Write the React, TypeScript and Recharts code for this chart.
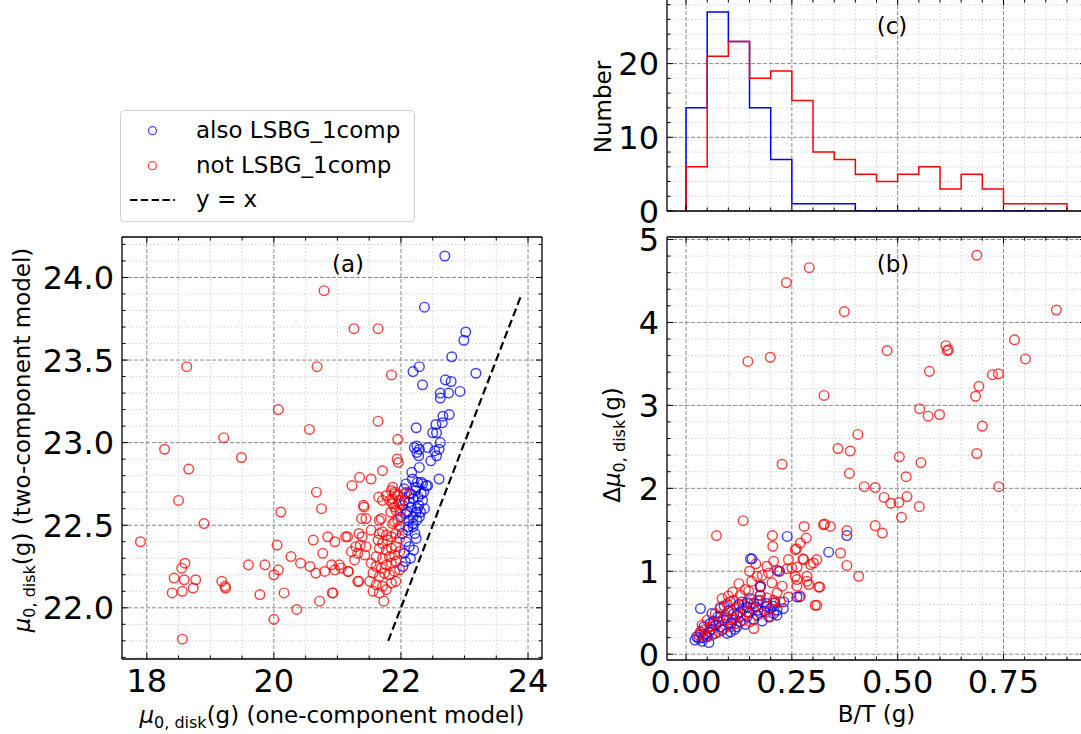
import React from 'react';
import { ScatterChart, Scatter, ComposedChart, Line, XAxis, YAxis, CartesianGrid, ReferenceLine, Legend } from 'recharts';

const FONT = '"DejaVu Sans", sans-serif';
const BLUE = '#0000ff';
const RED = '#ff0000';

// ---- panel (a): mu0 disk, one-component vs two-component ----
const A_BLUE: [number, number][] = [
  [22.69, 24.13], [22.37, 23.82], [23.02, 23.67], [22.99, 23.62], [22.80, 23.52], [22.19, 23.43], [22.29, 23.46],
  [23.18, 23.42], [22.34, 23.35], [22.70, 23.38], [22.79, 23.37], [22.93, 23.31], [22.62, 23.30], [22.75, 23.30],
  [22.62, 23.27], [22.66, 23.16], [22.76, 23.17], [22.55, 23.11], [22.65, 23.12], [22.24, 23.09], [22.50, 23.06],
  [22.56, 23.06], [22.62, 23.00], [22.25, 22.98], [22.29, 22.96], [22.25, 22.94], [22.28, 22.92], [22.42, 22.97],
  [22.53, 22.95], [22.60, 22.96], [22.56, 22.92], [22.47, 22.89], [22.29, 22.85], [22.17, 22.82], [22.60, 22.78],
  [22.08, 22.75], [22.26, 22.76], [22.34, 22.75], [22.42, 22.74], [22.23, 22.71], [22.32, 22.69], [22.13, 22.69],
  [22.19, 22.66], [22.34, 22.65], [22.06, 22.65], [22.28, 22.62], [22.37, 22.60], [22.16, 22.61], [22.24, 22.58],
  [22.08, 22.57], [22.25, 22.53], [22.19, 22.51], [22.11, 22.49], [22.29, 22.55], [22.21, 22.97], [22.40, 22.74],
  [22.26, 22.60], [22.19, 22.55], [22.11, 22.47], [22.19, 22.49], [22.24, 22.42], [22.13, 22.37], [22.05, 22.33],
  [22.03, 22.25], [22.16, 22.69], [22.13, 22.64], [22.32, 22.76], [22.24, 22.73], [22.02, 22.45], [22.08, 22.40],
  [22.15, 22.30], [22.00, 22.55], [22.10, 22.58], [22.20, 22.35], [22.03, 22.62], [22.18, 22.78], [22.36, 22.70],
  [22.12, 22.53], [22.07, 22.28], [22.22, 22.45], [22.27, 22.67], [22.05, 22.72], [22.31, 22.58],
];
const A_RED: [number, number][] = [
  [20.79, 23.92], [21.26, 23.69], [21.64, 23.69], [18.63, 23.46], [20.68, 23.46], [21.85, 23.41], [20.07, 23.20],
  [21.64, 23.13], [20.56, 23.08], [19.21, 23.03], [18.28, 22.96], [19.49, 22.91], [18.66, 22.84], [21.95, 23.02],
  [21.94, 22.90], [21.96, 22.88], [21.71, 22.83], [21.35, 22.79], [21.53, 22.78], [21.23, 22.74], [20.67, 22.70],
  [18.50, 22.65], [20.75, 22.60], [20.11, 22.58], [21.41, 22.62], [18.90, 22.51], [21.38, 22.54], [21.45, 22.54],
  [21.69, 22.54], [21.65, 22.67], [17.90, 22.40], [20.62, 22.41], [20.85, 22.43], [20.96, 22.40], [21.16, 22.43],
  [20.05, 22.38], [20.77, 22.33], [20.27, 22.31], [19.60, 22.26], [19.86, 22.26], [20.42, 22.27], [20.57, 22.25],
  [20.66, 22.21], [20.80, 22.22], [20.91, 22.26], [21.06, 22.24], [21.17, 22.22], [20.00, 22.20], [20.07, 22.23],
  [18.60, 22.27], [18.55, 22.24], [18.43, 22.18], [18.59, 22.17], [18.77, 22.17], [18.40, 22.09], [18.56, 22.10],
  [18.73, 22.12], [19.18, 22.16], [19.23, 22.13], [19.24, 22.12], [19.78, 22.08], [20.16, 22.09], [20.92, 22.09],
  [20.72, 22.04], [20.36, 21.99], [20.00, 21.93], [18.56, 21.81], [21.34, 22.16], [21.73, 22.04],
  [21.85, 22.71], [21.90, 22.69], [21.82, 22.65], [21.87, 22.63], [21.98, 22.65], [22.06, 22.69], [22.09, 22.70],
  [21.42, 22.61], [21.84, 22.58], [21.92, 22.59], [21.90, 22.52], [21.95, 22.53], [21.13, 22.43], [21.34, 22.45],
  [21.39, 22.43], [21.53, 22.47], [21.29, 22.37], [21.36, 22.38], [21.45, 22.37], [21.22, 22.34], [21.32, 22.33],
  [21.43, 22.32], [21.27, 22.29], [21.66, 22.45], [21.71, 22.46], [21.77, 22.44], [21.64, 22.41], [21.71, 22.39],
  [21.79, 22.41], [21.85, 22.43], [21.92, 22.45], [21.98, 22.42], [21.66, 22.36], [21.77, 22.35], [21.85, 22.36],
  [21.92, 22.37], [21.61, 22.31], [21.71, 22.30], [21.82, 22.31], [21.90, 22.32], [21.98, 22.34], [21.53, 22.27],
  [21.61, 22.25], [21.69, 22.24], [21.77, 22.26], [21.85, 22.27], [21.92, 22.28], [21.56, 22.21], [21.66, 22.19],
  [21.74, 22.21], [21.82, 22.20], [21.90, 22.22], [21.98, 22.23], [21.51, 22.16], [21.61, 22.14], [21.71, 22.13],
  [21.85, 22.15], [21.92, 22.16], [21.56, 22.10], [21.66, 22.09], [21.77, 22.11], [21.03, 22.26], [20.96, 22.23],
  [21.17, 22.22], [21.32, 22.16], [20.93, 22.09], [21.87, 22.73], [21.90, 22.70], [21.95, 22.68], [21.87, 22.66],
  [21.77, 22.68], [21.98, 22.63], [21.90, 22.61], [22.00, 22.59], [21.71, 22.65], [21.66, 22.53], [21.87, 22.51],
  [21.98, 22.49],
];
const A_ONE_TO_ONE = [21.8, 23.9];
const A_X_TICKS = [18, 20, 22, 24];
const A_Y_TICKS = [22.0, 22.5, 23.0, 23.5, 24.0];

// ---- panel (b): delta mu vs B/T ----
const B_BLUE: [number, number][] = [
  [0.025, 0.21], [0.021, 0.17], [0.038, 0.155], [0.054, 0.14], [0.050, 0.21], [0.069, 0.25], [0.081, 0.33],
  [0.097, 0.25], [0.105, 0.27], [0.120, 0.33], [0.089, 0.41], [0.113, 0.49], [0.128, 0.51], [0.144, 0.57],
  [0.160, 0.61], [0.175, 0.65], [0.191, 0.61], [0.207, 0.49], [0.215, 0.47], [0.199, 0.55], [0.168, 0.47],
  [0.144, 0.45], [0.128, 0.39], [0.105, 0.37], [0.077, 0.39], [0.057, 0.37], [0.042, 0.33], [0.034, 0.27],
  [0.061, 0.49], [0.081, 0.55], [0.105, 0.63], [0.132, 0.63], [0.175, 0.71], [0.152, 0.67], [0.215, 0.53],
  [0.231, 0.63], [0.262, 0.69], [0.175, 0.81], [0.034, 0.55], [0.152, 1.15], [0.239, 1.42], [0.337, 1.23],
  [0.215, 1.01], [0.380, 1.43], [0.156, 1.15], [0.268, 0.69], [0.221, 1.00], [0.176, 0.82], [0.030, 0.19],
  [0.045, 0.24], [0.060, 0.30], [0.070, 0.35], [0.085, 0.29], [0.095, 0.44], [0.110, 0.41], [0.120, 0.47],
  [0.135, 0.55], [0.150, 0.50], [0.165, 0.57], [0.185, 0.52], [0.195, 0.45], [0.205, 0.58], [0.180, 0.40],
  [0.160, 0.42], [0.140, 0.36], [0.115, 0.30], [0.100, 0.52], [0.090, 0.58], [0.075, 0.45], [0.065, 0.40],
  [0.055, 0.27], [0.040, 0.20], [0.125, 0.60], [0.145, 0.62], [0.170, 0.53], [0.190, 0.58], [0.210, 0.62],
  [0.230, 0.55],
];
const B_RED: [number, number][] = [
  [0.687, 4.81], [0.291, 4.66], [0.237, 4.48], [0.875, 4.15], [0.374, 4.13], [0.776, 3.79], [0.614, 3.72],
  [0.617, 3.66], [0.620, 3.67], [0.475, 3.66], [0.802, 3.56], [0.199, 3.58], [0.146, 3.53], [0.575, 3.41],
  [0.724, 3.37], [0.738, 3.38], [0.692, 3.23], [0.684, 3.11], [0.326, 3.12], [0.552, 2.96], [0.572, 2.87],
  [0.599, 2.89], [0.700, 2.75], [0.406, 2.65], [0.359, 2.48], [0.388, 2.45], [0.687, 2.42], [0.504, 2.38],
  [0.555, 2.31], [0.227, 2.29], [0.386, 2.18], [0.520, 2.14], [0.421, 2.02], [0.447, 2.01], [0.468, 1.89],
  [0.484, 1.82], [0.503, 1.83], [0.522, 1.90], [0.551, 1.78], [0.739, 2.02], [0.509, 1.65], [0.447, 1.55],
  [0.464, 1.46], [0.135, 1.61], [0.072, 1.43], [0.204, 1.43], [0.205, 1.30], [0.279, 1.54], [0.284, 1.40],
  [0.270, 1.34], [0.261, 1.27], [0.327, 1.57], [0.341, 1.54], [0.380, 1.49], [0.365, 1.22], [0.380, 1.07],
  [0.408, 0.94], [0.309, 1.14], [0.301, 1.10], [0.294, 1.08], [0.276, 1.15], [0.242, 1.14], [0.262, 1.05],
  [0.239, 1.03], [0.219, 1.00], [0.286, 0.94], [0.262, 0.90], [0.290, 0.84], [0.262, 0.82], [0.313, 0.81],
  [0.309, 0.59], [0.270, 0.70], [0.191, 1.06], [0.207, 1.12], [0.168, 0.94], [0.176, 0.82], [0.203, 0.86],
  [0.227, 0.82], [0.195, 0.98], [0.242, 0.69], [0.223, 0.63], [0.207, 0.62], [0.191, 0.68], [0.160, 0.31],
  [0.148, 0.76], [0.140, 0.78], [0.128, 0.71], [0.113, 0.65], [0.097, 0.61], [0.085, 0.67], [0.081, 0.57],
  [0.105, 0.53], [0.120, 0.57], [0.136, 0.59], [0.152, 0.61], [0.168, 0.65], [0.175, 0.71], [0.207, 0.65],
  [0.215, 0.74], [0.144, 0.51], [0.128, 0.45], [0.113, 0.43], [0.097, 0.41], [0.081, 0.45], [0.065, 0.37],
  [0.057, 0.33], [0.042, 0.29], [0.034, 0.25], [0.050, 0.41], [0.069, 0.49], [0.093, 0.47], [0.105, 0.33],
  [0.089, 0.31], [0.077, 0.27], [0.061, 0.23], [0.046, 0.21], [0.030, 0.23], [0.038, 0.35], [0.160, 0.55],
  [0.175, 0.49], [0.191, 0.51], [0.199, 0.45], [0.136, 0.41], [0.152, 0.39], [0.120, 0.37], [0.305, 0.59],
  [0.316, 0.81], [0.286, 0.88], [0.258, 0.94], [0.250, 1.04], [0.278, 1.14], [0.258, 1.26], [0.325, 1.56],
  [0.110, 0.75], [0.125, 0.85], [0.155, 0.88], [0.180, 0.95], [0.100, 0.70], [0.150, 1.00], [0.165, 1.09],
];
const B_X_TICKS = [0, 0.25, 0.5, 0.75];
const B_Y_TICKS = [0, 1, 2, 3, 4, 5];

// ---- panel (c): B/T histogram ----
const BIN_EDGES = [0, 0.05, 0.1, 0.15, 0.2, 0.25, 0.3, 0.35, 0.4, 0.45, 0.5, 0.55, 0.6, 0.65, 0.7, 0.75, 0.8, 0.85, 0.9];
const HIST_BLUE = [14, 27, 23, 14, 7, 1, 1, 1, 0, 0, 0, 0, 0, 0, 0, 0, 0, 0];
const HIST_RED = [6, 21, 23, 18, 19, 15, 8, 7, 5, 4, 5, 6, 3, 5, 3, 1, 1, 1];
const C_Y_TICKS = [0, 10, 20];

const LEGEND_LABELS = ['also LSBG_1comp', 'not LSBG_1comp', 'y = x'];

// plot boxes in page pixels
const BOX_A = { l: 122, t: 237, r: 542, b: 659 };
const BOX_B = { l: 667, t: 237, r: 1086, b: 660 };
const BOX_C = { l: 667, t: -1, r: 1086, b: 211 };
const AX = 10;

const toPts = (arr: [number, number][]) => arr.map(([x, y]) => ({ x, y }));

function stepPoints(counts: number[]) {
  const n = counts.length;
  const pts = [{ x: BIN_EDGES[0], y: 0 }];
  counts.forEach((c, i) => pts.push({ x: BIN_EDGES[i], y: c }));
  pts.push({ x: BIN_EDGES[n], y: counts[n - 1] });
  pts.push({ x: BIN_EDGES[n], y: 0 });
  return pts;
}

function minorTicks(lo: number, hi: number, step: number, majors: number[]) {
  const out: number[] = [];
  const n = Math.round((hi - lo) / step);
  for (let i = 0; i <= n; i++) {
    const v = +(lo + i * step).toFixed(4);
    if (!majors.some((m) => Math.abs(m - v) < 1e-6)) out.push(v);
  }
  return out;
}

type Side = 'bottom' | 'left' | 'top' | 'right';

const tickRenderer = (side: Side, majors: number[], fmt?: (v: number) => string) => (props: any) => {
  const { x, y, payload } = props;
  const v = payload.value;
  const major = majors.some((m) => Math.abs(m - v) < 1e-6);
  const len = major ? 6 : 3.5;
  let line;
  if (side === 'bottom') line = <line x1={x} y1={y} x2={x} y2={y - len} />;
  else if (side === 'top') line = <line x1={x} y1={y} x2={x} y2={y + len} />;
  else if (side === 'left') line = <line x1={x} y1={y} x2={x + len} y2={y} />;
  else line = <line x1={x} y1={y} x2={x - len} y2={y} />;
  return (
    <g>
      <g stroke="#000" strokeWidth={1}>{line}</g>
      {major && fmt && side === 'bottom' && (
        <text x={x} y={y + 33} textAnchor="middle" fontSize={32} fontFamily={FONT} fill="#000">{fmt(v)}</text>
      )}
      {major && fmt && side === 'left' && (
        <text x={x - 8} y={y + 11.5} textAnchor="end" fontSize={32} fontFamily={FONT} fill="#000">{fmt(v)}</text>
      )}
    </g>
  );
};

const AXIS_LINE = { stroke: '#000', strokeWidth: 1.3 };

function frame(xDomain: number[], xMajor: number[], xMinor: number[], xFmt: ((v: number) => string) | undefined,
  yDomain: number[], yMajor: number[], yMinor: number[], yFmt: (v: number) => string) {
  const xt = [...xMajor, ...xMinor].sort((a, b) => a - b);
  const yt = [...yMajor, ...yMinor].sort((a, b) => a - b);
  const common = { type: 'number' as const, allowDataOverflow: true, interval: 0 as const, tickSize: 0, tickMargin: 0, tickLine: false, axisLine: AXIS_LINE };
  return [
    <CartesianGrid key="gmin" stroke="#d4d4d4" strokeDasharray="1.5 2" verticalValues={xMinor} horizontalValues={yMinor} />,
    <CartesianGrid key="gmaj" stroke="#8a8a8a" strokeDasharray="4 2" verticalValues={xMajor} horizontalValues={yMajor} />,
    <XAxis key="xb" {...common} dataKey="x" domain={xDomain} ticks={xt} height={AX} tick={tickRenderer('bottom', xMajor, xFmt)} />,
    <XAxis key="xt" {...common} xAxisId="top" orientation="top" dataKey="x" domain={xDomain} ticks={xt} height={1} tick={tickRenderer('top', xMajor)} />,
    <YAxis key="yl" {...common} dataKey="y" domain={yDomain} ticks={yt} width={AX} tick={tickRenderer('left', yMajor, yFmt)} />,
    <YAxis key="yr" {...common} yAxisId="right" orientation="right" dataKey="y" domain={yDomain} ticks={yt} width={1} tick={tickRenderer('right', yMajor)} />,
  ];
}

function marginFor(box: { l: number; t: number; r: number; b: number }, top0: number, W: number, H: number) {
  return { top: box.t - top0 - 1, left: box.l - AX, right: W - box.r - 1, bottom: H - (box.b - top0) - AX };
}

const ring = (color: string) => (props: any) => (
  <circle cx={props.cx} cy={props.cy} r={4.8} fill="none" stroke={color} strokeOpacity={0.75} strokeWidth={1.45} />
);

const LegendBox = () => (
  <svg width={296} height={113} style={{ display: 'block' }}>
    <rect x={0.5} y={0.5} width={294} height={111} rx={4} fill="#fff" fillOpacity={0.8} stroke="#cfcfcf" />
    <circle cx={32.5} cy={20.7} r={4} fill="none" stroke={BLUE} strokeOpacity={0.72} strokeWidth={1.3} />
    <circle cx={32.5} cy={55.7} r={4} fill="none" stroke={RED} strokeOpacity={0.72} strokeWidth={1.3} />
    <line x1={10} y1={90} x2={55} y2={90} stroke="#000" strokeWidth={2} strokeDasharray="7.4 3.4" />
    {LEGEND_LABELS.map((t, i) => (
      <text key={t} x={76} y={28.3 + i * 34.2} fontSize={23} fontFamily={FONT} fill="#000">{t}</text>
    ))}
  </svg>
);

const MuTitle = ({ x, y, rotate, prefix, rest }: { x: number; y: number; rotate?: boolean; prefix?: string; rest: string }) => (
  <text x={x} y={y} textAnchor="middle" fontSize={23} fontFamily={FONT} fill="#000"
    transform={rotate ? `rotate(-90 ${x} ${y})` : undefined}>
    {prefix}
    <tspan fontStyle="italic">μ</tspan>
    <tspan fontSize={16} dy={5}>0, disk</tspan>
    <tspan dy={-5}>{rest}</tspan>
  </text>
);

export default function App() {
  const aXMinor = minorTicks(18, 24, 0.5, A_X_TICKS);
  const aYMinor = minorTicks(21.7, 24.2, 0.1, A_Y_TICKS);
  const bXMinor = minorTicks(0, 0.9, 0.05, B_X_TICKS);
  const bYMinor = minorTicks(0, 5, 0.2, B_Y_TICKS);
  const cYMinor = minorTicks(0, 28, 2, C_Y_TICKS);

  const W1 = 1081, H1 = 734, W2 = 1100;

  return (
    <div style={{ position: 'absolute', left: 0, top: 0, width: 1081, height: 734, overflow: 'hidden', background: '#fff' }}>
      {/* (a) */}
      <div style={{ position: 'absolute', left: 0, top: 0 }}>
        <ScatterChart width={W1} height={H1} margin={marginFor(BOX_A, 0, W1, H1)}>
          {frame([17.61, 24.22], A_X_TICKS, aXMinor, (v) => String(v), [21.69, 24.245], A_Y_TICKS, aYMinor, (v) => v.toFixed(1))}
          <Scatter data={toPts(A_BLUE)} shape={ring(BLUE)} isAnimationActive={false} />
          <Scatter data={toPts(A_RED)} shape={ring(RED)} isAnimationActive={false} />
          <ReferenceLine segment={[{ x: A_ONE_TO_ONE[0], y: A_ONE_TO_ONE[0] }, { x: A_ONE_TO_ONE[1], y: A_ONE_TO_ONE[1] }]}
            stroke="#000" strokeWidth={2.2} strokeDasharray="8 4" />
          <Legend content={() => <LegendBox />} layout="horizontal" verticalAlign="middle" align="center"
            wrapperStyle={{ left: 120, top: 110, width: 296, height: 113 }} />
        </ScatterChart>
      </div>

      {/* (b) */}
      <div style={{ position: 'absolute', left: 0, top: 0 }}>
        <ScatterChart width={W2} height={H1} margin={marginFor(BOX_B, 0, W2, H1)}>
          {frame([-0.045, 0.945], B_X_TICKS, bXMinor, (v) => v.toFixed(2), [-0.07, 5.03], B_Y_TICKS, bYMinor, (v) => String(v))}
          <Scatter data={toPts(B_BLUE)} shape={ring(BLUE)} isAnimationActive={false} />
          <Scatter data={toPts(B_RED)} shape={ring(RED)} isAnimationActive={false} />
        </ScatterChart>
      </div>

      {/* (c) */}
      <div style={{ position: 'absolute', left: 0, top: -20 }}>
        <ComposedChart width={W2} height={260} margin={marginFor(BOX_C, -20, W2, 260)}>
          {frame([-0.045, 0.945], B_X_TICKS, bXMinor, undefined, [0, 28.77], C_Y_TICKS, cYMinor, (v) => String(v))}
          <Line data={stepPoints(HIST_BLUE)} dataKey="y" type="stepAfter" stroke={BLUE} strokeWidth={1.5} dot={false} isAnimationActive={false} />
          <Line data={stepPoints(HIST_RED)} dataKey="y" type="stepAfter" stroke={RED} strokeWidth={1.5} dot={false} isAnimationActive={false} />
        </ComposedChart>
      </div>

      {/* titles and panel letters */}
      <svg width={1081} height={734} style={{ position: 'absolute', left: 0, top: 0, pointerEvents: 'none' }}>
        <MuTitle x={(BOX_A.l + BOX_A.r) / 2} y={723} rest="(g) (one-component model)" />
        <MuTitle x={30} y={440} rotate rest="(g) (two-component model)" />
        <MuTitle x={620} y={445} rotate prefix="Δ" rest="(g)" />
        <text x={(BOX_B.l + BOX_B.r) / 2} y={722} textAnchor="middle" fontSize={23} fontFamily={FONT} fill="#000">B/T (g)</text>
        <text x={611} y={107} textAnchor="middle" fontSize={23} fontFamily={FONT} fill="#000" transform="rotate(-90 611 107)">Number</text>
        <text x={348} y={272} textAnchor="middle" fontSize={23} fontFamily={FONT} fill="#000">(a)</text>
        <text x={893} y={272} textAnchor="middle" fontSize={23} fontFamily={FONT} fill="#000">(b)</text>
        <text x={892} y={34} textAnchor="middle" fontSize={23} fontFamily={FONT} fill="#000">(c)</text>
      </svg>
    </div>
  );
}
